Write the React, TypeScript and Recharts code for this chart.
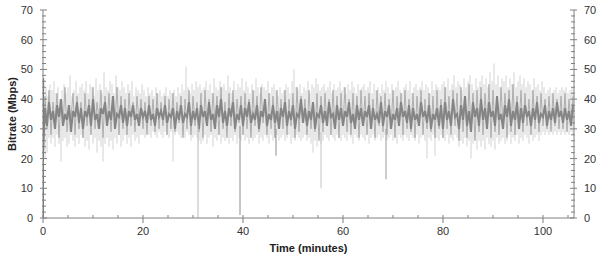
import React from "react";
import { LineChart, Line, XAxis, YAxis } from "recharts";

// sample spacing (minutes) of the traces
const OUTER_STEP = 0.2;
const INNER_STEP = 0.4;

// light envelope of the bitrate trace (Mbps), one sample every 0.2 min
const outerValues: number[] = [
  0,47,20,44,22,41,27,45,25,43,27,46,24,42,28,44,25,40,19,43,
  26,45,27,42,24,44,25,48,28,41,26,43,24,46,27,42,25,44,28,45,
  27,43,24,46,26,42,23,45,28,44,25,41,27,47,22,43,26,45,24,42,
  19,49,25,44,27,43,24,46,26,45,23,42,27,48,25,44,28,43,24,46,
  26,44,28,42,25,45,27,43,24,46,28,41,26,44,27,43,25,42,28,45,
  28,43,27,41,29,44,28,42,27,43,29,41,28,44,27,42,29,43,28,41,
  27,42,29,44,28,41,27,43,29,42,19,43,28,41,29,44,28,42,27,45,
  28,43,27,51,29,44,28,42,26,45,27,43,28,46,27,44,26,45,25,43,
  26,44,28,46,25,43,27,45,28,42,24,47,27,44,26,43,28,46,25,44,
  27,45,26,43,28,48,25,44,27,42,26,46,28,43,25,45,27,44,26,47,
  28,43,26,46,27,44,25,42,28,45,26,43,27,47,28,44,25,42,27,45,
  26,44,28,43,27,46,25,42,28,44,26,45,27,43,28,41,26,44,27,42,
  28,43,26,45,27,44,28,42,25,46,27,50,26,44,28,43,27,45,26,42,
  27,44,28,43,26,46,27,42,25,45,22,44,26,47,24,45,27,43,25,44,
  26,45,28,43,27,44,26,46,28,42,27,45,26,43,28,44,27,46,26,43,
  28,44,27,42,26,45,28,43,27,46,25,44,28,42,27,45,26,43,28,44,
  27,45,26,43,28,44,25,46,27,42,28,45,26,43,27,44,28,42,26,45,
  27,43,28,46,26,44,27,42,28,45,26,43,27,44,25,46,28,43,27,42,
  26,44,28,45,27,43,26,46,28,42,27,44,26,45,28,43,25,44,27,46,
  28,43,26,45,20,44,27,42,26,46,28,43,21,45,27,44,26,43,28,45,
  27,46,26,44,28,47,25,43,27,45,26,48,28,44,27,46,24,45,26,43,
  25,47,27,44,24,46,26,48,20,45,25,43,27,47,23,44,26,46,24,48,
  26,45,23,47,27,44,25,49,24,46,26,52,23,45,27,48,25,44,26,47,
  27,46,25,48,26,44,28,47,25,45,27,49,26,44,28,46,25,48,27,45,
  26,47,28,44,27,46,25,45,28,43,26,47,27,44,28,45,26,43,28,46,
  29,44,28,42,29,43,28,44,30,42,28,43,29,44,28,42,29,43,28,44,
  29,43,28,44,29,42,28,43,29,44,28,42,
];

// mid-density part of the trace (Mbps), one sample every 0.4 min
const midValues: number[] = [
  24,41,30,43,28,39,32,42,27,40,31,44,29,38,33,42,28,41,30,39,
  27,42,31,40,28,44,30,39,33,43,27,41,31,42,29,40,32,44,28,41,
  30,40,28,42,31,39,29,41,32,40,30,39,28,41,31,40,29,42,30,39,
  31,41,28,40,30,42,29,39,32,41,27,40,30,43,28,41,31,39,29,42,
  27,43,31,40,29,42,32,41,28,44,30,39,27,42,31,43,29,40,32,41,
  28,42,30,40,27,43,31,41,29,44,32,39,28,42,30,41,27,43,31,40,
  30,43,28,40,31,42,27,44,29,41,32,40,28,43,30,39,29,42,26,41,
  29,42,31,40,28,43,30,41,27,42,31,44,29,40,28,42,30,41,27,43,
  31,41,28,42,30,40,27,43,31,41,29,42,28,40,30,43,27,41,31,42,
  28,43,30,40,29,42,27,41,31,43,28,40,30,42,29,41,27,43,30,40,
  27,44,30,41,28,43,31,42,26,44,29,41,27,45,30,42,26,43,29,44,
  28,42,30,45,27,43,29,41,28,44,31,42,27,43,29,45,28,41,30,43,
  29,42,31,40,28,43,30,41,29,42,31,40,30,41,29,42,31,40,30,41,
  30,42,29,40,31,41,
];

// dense core of the trace (Mbps), one sample every 0.4 min
const coreValues: number[] = [
  22,37,31,39,33,36,30,38,34,40,31,35,33,38,29,36,34,39,32,37,
  30,36,34,38,31,40,33,35,30,37,35,39,31,36,33,41,30,35,34,38,
  32,37,31,36,34,38,33,35,31,37,34,36,32,38,33,35,31,37,34,36,
  33,38,32,35,34,37,30,36,33,38,32,35,34,39,31,36,33,37,30,38,
  34,36,31,39,33,35,30,38,34,40,32,36,31,37,34,39,30,35,33,38,
  31,37,34,39,32,35,33,38,30,36,34,40,31,35,33,38,32,36,30,37,
  34,39,31,36,33,38,30,35,34,40,32,37,31,36,33,39,30,35,34,38,
  32,36,31,39,34,35,30,38,33,37,31,36,34,39,32,35,30,38,33,37,
  31,36,34,38,30,37,33,35,32,39,31,36,34,38,30,35,33,37,31,39,
  34,36,32,38,30,37,33,35,31,39,34,36,32,38,30,35,33,37,31,38,
  30,39,33,36,31,40,34,35,30,38,33,41,31,36,29,39,34,37,31,40,
  33,37,30,39,34,36,31,41,33,35,30,38,34,40,31,36,33,39,30,37,
  32,38,34,36,31,37,33,39,32,35,34,38,31,36,33,37,32,39,34,36,
  32,37,33,36,31,38,
];

// short drop-outs of the stream
const dipTimes = [0.1, 31.0, 39.4, 46.6, 55.6, 68.6];
const dipFrom = [47, 31, 31, 30, 29, 30];
const dipTo = [0, 0, 1, 21, 10, 13];
const dipColors = ["#777777", "#b8b8b8", "#8c8c8c", "#8c8c8c", "#c4c4c4", "#9a9a9a"];

const xTicks = [0,5,10,15,20,25,30,35,40,45,50,55,60,65,70,75,80,85,90,95,100,105];
const xMajor = [0,20,40,60,80,100];
const yTicks = [0,2,4,6,8,10,12,14,16,18,20,22,24,26,28,30,32,34,36,38,40,42,44,46,48,50,52,54,56,58,60,62,64,66,68,70];
const yMajor = [0,10,20,30,40,50,60,70];
const X_DOMAIN: [number, number] = [0, 106.2];
const Y_DOMAIN: [number, number] = [0, 70];

const outerData = outerValues.map((v, i) => ({ t: i * OUTER_STEP, v }));
const midData = midValues.map((v, i) => ({ t: i * INNER_STEP, v }));
const coreData = coreValues.map((v, i) => ({ t: i * INNER_STEP, v }));
const dipData = dipTimes.map((t, i) => [
  { t, v: dipFrom[i] },
  { t, v: dipTo[i] },
]);

const AXIS = "#808080";
const FONT = "'Liberation Sans', Arial, sans-serif";

const BottomTick = (props: any) => {
  const { x, y, payload } = props;
  const major = xMajor.includes(payload.value);
  return (
    <g>
      <line x1={x} x2={x} y1={y - 3} y2={y + (major ? 5 : 0)} stroke={AXIS} strokeWidth={1} />
      {major && (
        <text x={x} y={y + 17} textAnchor="middle" fontSize={11} fill="#333" fontFamily={FONT}>
          {payload.value}
        </text>
      )}
    </g>
  );
};

const TopTick = (props: any) => {
  const { x, y } = props;
  return <line x1={x} x2={x} y1={y} y2={y + 3} stroke={AXIS} strokeWidth={1} />;
};

const LeftTick = (props: any) => {
  const { x, y, payload } = props;
  const major = yMajor.includes(payload.value);
  return (
    <g>
      <line x1={x - (major ? 3 : 1)} x2={x + (major ? 4 : 3)} y1={y} y2={y} stroke={AXIS} strokeWidth={1} />
      {major && (
        <text x={x - 10} y={y + 4} textAnchor="end" fontSize={11} fill="#333" fontFamily={FONT}>
          {payload.value}
        </text>
      )}
    </g>
  );
};

const RightTick = (props: any) => {
  const { x, y, payload } = props;
  const major = yMajor.includes(payload.value);
  return (
    <g>
      <line x1={x - (major ? 4 : 3)} x2={x + (major ? 3 : 1)} y1={y} y2={y} stroke={AXIS} strokeWidth={1} />
      {major && (
        <text x={x + 10} y={y + 4} textAnchor="start" fontSize={11} fill="#333" fontFamily={FONT}>
          {payload.value}
        </text>
      )}
    </g>
  );
};

export default function App() {
  return (
    <div style={{ position: "absolute", left: 0, top: 0, width: 600, height: 257, background: "#fff" }}>
      <LineChart width={600} height={257} margin={{ top: 10, right: 0, bottom: 0, left: 0 }}>
        <XAxis
          xAxisId="bottom"
          dataKey="t"
          type="number"
          domain={X_DOMAIN}
          allowDataOverflow
          ticks={xTicks}
          interval={0}
          tickSize={0}
          tickMargin={0}
          tickLine={false}
          tick={<BottomTick />}
          axisLine={{ stroke: AXIS }}
          height={39}
          label={{
            value: "Time (minutes)",
            position: "insideBottom",
            offset: 5,
            style: { fontFamily: FONT, fontWeight: "bold", fontSize: 11, fill: "#222" },
          }}
        />
        <XAxis
          xAxisId="top"
          orientation="top"
          dataKey="t"
          type="number"
          domain={X_DOMAIN}
          allowDataOverflow
          ticks={xTicks}
          interval={0}
          tickSize={0}
          tickMargin={0}
          tickLine={false}
          tick={<TopTick />}
          axisLine={{ stroke: AXIS }}
          height={0}
        />
        <YAxis
          yAxisId="left"
          type="number"
          domain={Y_DOMAIN}
          allowDataOverflow
          ticks={yTicks}
          interval={0}
          tickSize={0}
          tickMargin={0}
          tickLine={false}
          tick={<LeftTick />}
          axisLine={{ stroke: AXIS }}
          width={43}
          label={{
            value: "Bitrate (Mbps)",
            angle: -90,
            position: "insideLeft",
            offset: 12,
            style: { textAnchor: "middle", fontFamily: FONT, fontWeight: "bold", fontSize: 11, fill: "#222" },
          }}
        />
        <YAxis
          yAxisId="right"
          orientation="right"
          type="number"
          domain={Y_DOMAIN}
          allowDataOverflow
          ticks={yTicks}
          interval={0}
          tickSize={0}
          tickMargin={0}
          tickLine={false}
          tick={<RightTick />}
          axisLine={{ stroke: AXIS }}
          width={26}
        />
        <Line
          xAxisId="bottom"
          yAxisId="left"
          data={outerData}
          dataKey="v"
          type="linear"
          stroke="#d4d4d4"
          strokeWidth={0.6}
          dot={false}
          activeDot={false}
          isAnimationActive={false}
        />
        <Line
          xAxisId="top"
          yAxisId="right"
          data={midData}
          dataKey="v"
          type="linear"
          stroke="#a8a8a8"
          strokeWidth={0.9}
          dot={false}
          activeDot={false}
          isAnimationActive={false}
        />
        <Line
          xAxisId="bottom"
          yAxisId="left"
          data={coreData}
          dataKey="v"
          type="linear"
          stroke="#858585"
          strokeWidth={2}
          dot={false}
          activeDot={false}
          isAnimationActive={false}
        />
        {dipData.map((d, i) => (
          <Line
            key={i}
            xAxisId="bottom"
            yAxisId="left"
            data={d}
            dataKey="v"
            type="linear"
            stroke={dipColors[i]}
            strokeWidth={1}
            dot={false}
            activeDot={false}
            isAnimationActive={false}
          />
        ))}
      </LineChart>
    </div>
  );
}
